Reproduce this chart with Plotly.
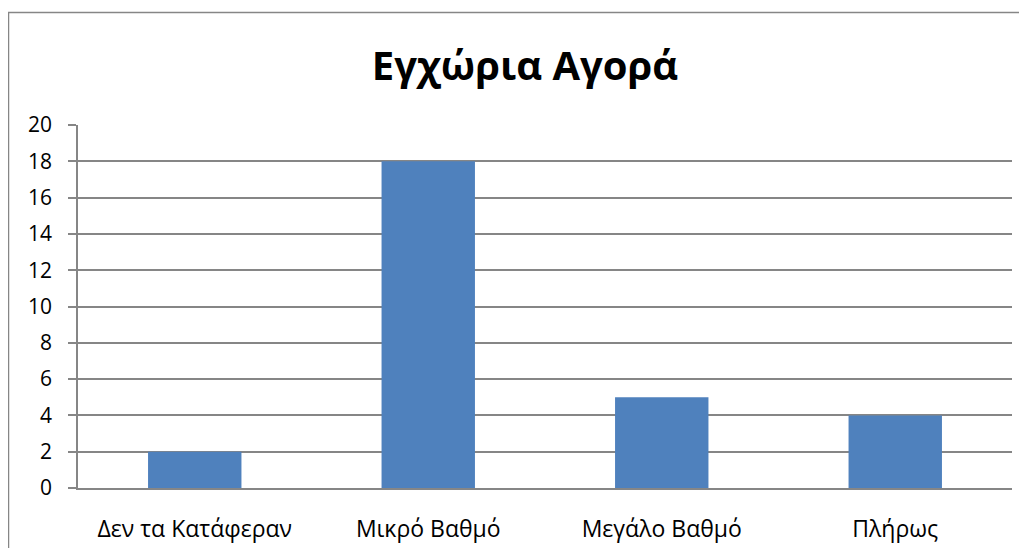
import plotly.graph_objects as go

categories = ["Δεν τα Κατάφεραν", "Μικρό Βαθμό", "Μεγάλο Βαθμό", "Πλήρως"]
values = [2, 18, 5, 4]
y_ticks = [0, 2, 4, 6, 8, 10, 12, 14, 16, 18, 20]

BAR = "#4F81BD"
GRID = "#868686"
FONT = "Open Sans"

# page has an 8px body margin; layout numbers below are in figure pixels
W, H = 1027, 548
L, R, T, B = 70, 23, 117, 68
PW, PH = W - L - R, H - T - B

fig = go.Figure(go.Bar(x=categories, y=values, marker=dict(color=BAR, line=dict(width=0)), width=0.4))

fig.update_layout(
    width=W, height=H,
    margin=dict(l=L, r=R, t=T, b=B),
    paper_bgcolor="white", plot_bgcolor="white",
    font=dict(family=FONT, size=22, color="#000000"),
    showlegend=False,
    title=dict(text="<b>Εγχώρια Αγορά</b>", x=517 / W, xanchor="center",
               y=1 - 58 / H, yanchor="middle",
               font=dict(family=FONT, size=40, color="#000000")),
)
fig.update_xaxes(showline=True, linecolor=GRID, linewidth=1.5, ticks="", showgrid=False,
                 ticklabelstandoff=20, tickfont=dict(size=23))
fig.update_yaxes(range=[0, 20], tickvals=y_ticks, showline=True, linecolor=GRID, linewidth=1.5,
                 ticks="outside", ticklen=8, tickcolor=GRID, tickwidth=1.5,
                 showgrid=True, gridcolor=GRID, gridwidth=1.5, zeroline=False,
                 ticklabelstandoff=12, tickfont=dict(size=21))

# chart border
fig.add_shape(type="rect", xref="paper", yref="paper",
              x0=(0.5 - L) / PW, x1=1.2, y0=-0.4, y1=(H - B - 4.5) / PH,
              line=dict(color=GRID, width=1.5), fillcolor="rgba(0,0,0,0)", layer="below")

fig.write_html("out.html")
